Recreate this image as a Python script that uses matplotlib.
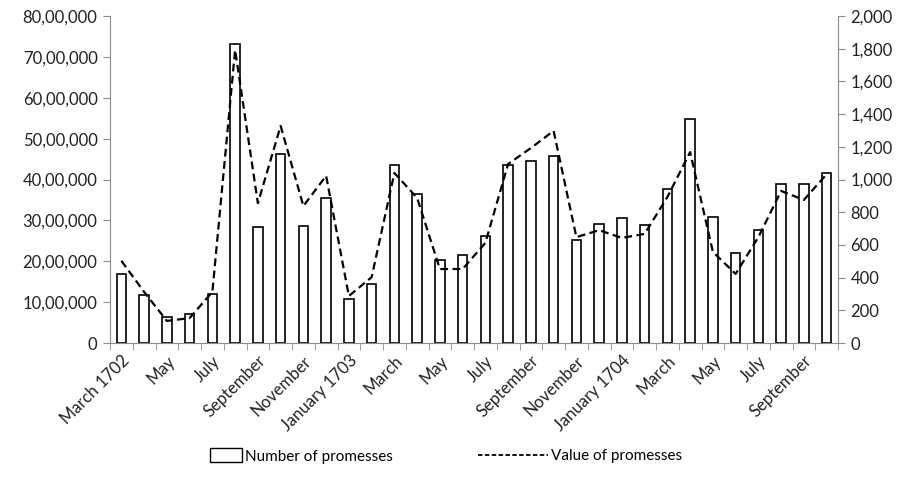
import numpy as np
import matplotlib.pyplot as plt
from matplotlib.ticker import FuncFormatter, FixedLocator
from matplotlib.patches import Patch
from matplotlib.lines import Line2D

plt.rcParams['font.family'] = ['Lato', 'DejaVu Sans']

months = ['March 1702', 'April', 'May', 'June', 'July', 'August', 'September', 'October',
          'November', 'December', 'January 1703', 'February', 'March', 'April', 'May', 'June',
          'July', 'August', 'September', 'October', 'November', 'December', 'January 1704',
          'February', 'March', 'April', 'May', 'June', 'July', 'August', 'September', 'October']

# number of promesses (right axis)
number = [422, 294, 159, 177, 300, 1829, 709, 1156, 716, 887, 269, 361,
          1089, 911, 508, 538, 654, 1089, 1113, 1144, 630, 728, 765, 722,
          942, 1370, 771, 550, 691, 972, 972, 1040]

# value of promesses (left axis)
value = [2010000, 1250000, 540000, 610000, 1250000, 7170000, 3420000, 5310000,
         3350000, 4090000, 1150000, 1610000, 4160000, 3550000, 1810000, 1810000,
         2450000, 4380000, 4770000, 5190000, 2590000, 2760000, 2570000, 2670000,
         3570000, 4670000, 2230000, 1690000, 2590000, 3720000, 3500000, 4130000]


def indian_format(v, pos=None):
    s = str(int(round(v)))
    if len(s) <= 3:
        return s
    head, tail = s[:-3], s[-3:]
    groups = []
    while len(head) > 2:
        groups.insert(0, head[-2:])
        head = head[:-2]
    if head:
        groups.insert(0, head)
    return ','.join(groups + [tail])


spine_col = '#8c8c8c'
text_col = '#222222'

fig = plt.figure(figsize=(9.07, 4.96), dpi=100)
ax2 = fig.add_axes([110 / 907, 1 - 343 / 496, (838 - 110) / 907, (343 - 16) / 496])
ax = ax2.twinx()
ax.yaxis.tick_left()
ax.yaxis.set_label_position('left')
ax2.yaxis.tick_right()

x = np.arange(len(months))
ax2.bar(x, number, width=0.42, facecolor='white', edgecolor='black', linewidth=1.2, zorder=2)
ax.plot(x, value, color='black', linestyle=(0, (3.5, 2)), linewidth=1.6, zorder=3)

ax.set_zorder(ax2.get_zorder() + 1)
ax.patch.set_visible(False)

ax.set_xlim(-0.5, len(months) - 0.5)
ax.set_ylim(0, 8000000)
ax2.set_ylim(0, 2000)
ax.set_yticks(np.arange(0, 8000001, 1000000))
ax2.set_yticks(np.arange(0, 2001, 200))
ax.yaxis.set_major_formatter(FuncFormatter(indian_format))
ax2.yaxis.set_major_formatter(FuncFormatter(lambda v, p: f'{int(v):,}'))

ax2.set_xticks(x[::2])
ax2.set_xticklabels(months[::2], rotation=45, ha='right', rotation_mode='anchor',
                    fontsize=12, color=text_col)
ax2.xaxis.set_minor_locator(FixedLocator(np.arange(-0.5, len(months), 1.0)))
ax2.tick_params(axis='x', which='major', length=0, pad=7)
ax2.tick_params(axis='x', which='minor', length=5, color=spine_col, direction='out')

for a in (ax, ax2):
    for s in a.spines.values():
        s.set_visible(False)
    a.tick_params(axis='y', length=5, color=spine_col, labelsize=12, labelcolor=text_col)
ax.spines['left'].set_visible(True)
ax.spines['left'].set_color(spine_col)
ax2.spines['right'].set_visible(True)
ax2.spines['right'].set_color(spine_col)
ax2.spines['bottom'].set_visible(True)
ax2.spines['bottom'].set_color(spine_col)
ax.tick_params(axis='y', pad=4)
ax2.tick_params(axis='y', pad=4)

# two separate legend entries so the handles can have different lengths
leg1 = fig.legend([Patch(facecolor='white', edgecolor='black', linewidth=1.0)],
                  ['Number of promesses'], loc='center left',
                  bbox_to_anchor=(210 / 907, 1 - 456 / 496), frameon=False, fontsize=11,
                  handlelength=2.1, handleheight=1.0, handletextpad=0.2,
                  borderpad=0, borderaxespad=0)
leg2 = fig.legend([Line2D([0], [0], color='black', linestyle=(0, (2.5, 1.3)), linewidth=1.3)],
                  ['Value of promesses'], loc='center left',
                  bbox_to_anchor=(478 / 907, 1 - 456 / 496), frameon=False, fontsize=11,
                  handlelength=4.6, handletextpad=0.2, borderpad=0, borderaxespad=0)

fig.savefig('out.png', dpi=100)
